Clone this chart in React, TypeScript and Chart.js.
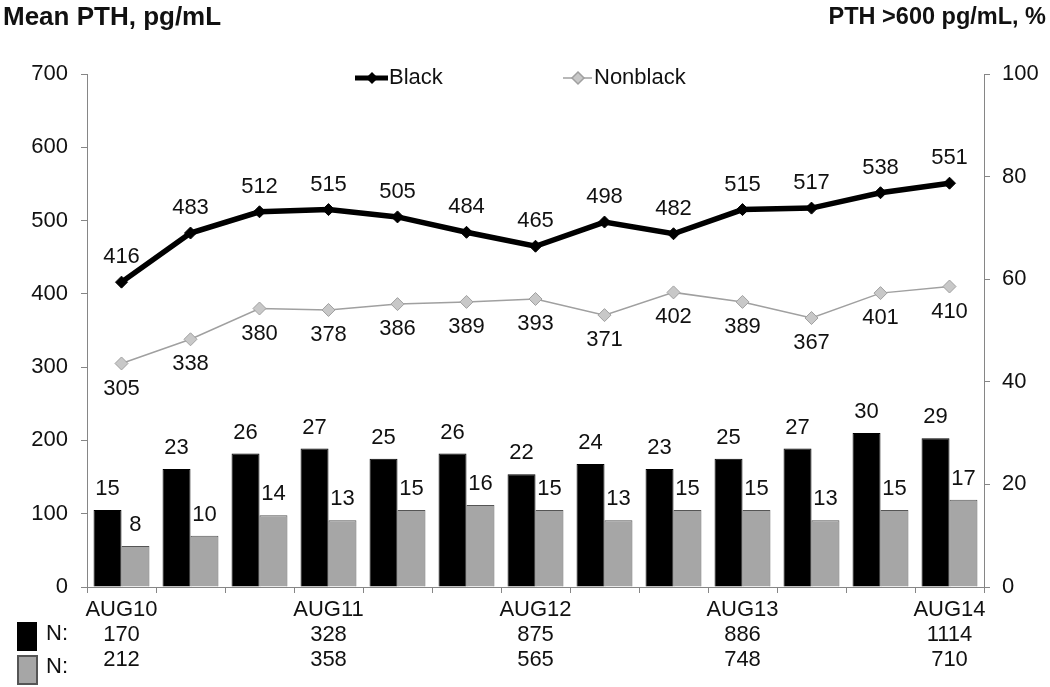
import React, { useEffect, useRef } from "react";
import { Chart, registerables } from "chart.js";

Chart.register(...registerables);

const categories = ["AUG10", "", "", "AUG11", "", "", "AUG12", "", "", "AUG13", "", "", "AUG14"];
const blackMean = [416, 483, 512, 515, 505, 484, 465, 498, 482, 515, 517, 538, 551];
const nonblackMean = [305, 338, 380, 378, 386, 389, 393, 371, 402, 389, 367, 401, 410];
const blackPct = [15, 23, 26, 27, 25, 26, 22, 24, 23, 25, 27, 30, 29];
const nonblackPct = [8, 10, 14, 13, 15, 16, 15, 13, 15, 15, 13, 15, 17];
const nBlack = ["170", "", "", "328", "", "", "875", "", "", "886", "", "", "1114"];
const nNonblack = ["212", "", "", "358", "", "", "565", "", "", "748", "", "", "710"];
const leftTitle = "Mean PTH, pg/mL";
const rightTitle = "PTH >600 pg/mL, %";

const FONT = "'Liberation Sans', Arial, sans-serif";
const AXIS = "#868686";
const GRAYBAR = "#a6a6a6";

const overlay = {
  id: "overlay",
  afterDatasetsDraw(chart: any) {
    const ctx = chart.ctx;
    ctx.save();
    ctx.fillStyle = "#111";
    ctx.font = `22px ${FONT}`;
    ctx.textAlign = "center";
    ctx.textBaseline = "middle";
    chart.data.datasets.forEach((ds: any, i: number) => {
      const meta = chart.getDatasetMeta(i);
      meta.data.forEach((el: any, j: number) => {
        const v = ds.data[j];
        let dy = -25;
        if (ds.label === "Nonblack") dy = 25;
        if (ds.type === "bar") dy = -21;
        ctx.fillText(String(v), el.x, el.y + dy);
      });
    });
    // titles
    ctx.textBaseline = "alphabetic";
    ctx.textAlign = "left";
    ctx.font = `bold 26px ${FONT}`;
    ctx.fillText(leftTitle, 3, 25);
    ctx.textAlign = "right";
    ctx.font = `bold 23.5px ${FONT}`;
    ctx.fillText(rightTitle, 1046, 24);
    // legend
    ctx.font = `22px ${FONT}`;
    ctx.textAlign = "left";
    ctx.textBaseline = "middle";
    const ly = 78;
    ctx.strokeStyle = "#000";
    ctx.lineWidth = 5;
    ctx.beginPath();
    ctx.moveTo(355, ly);
    ctx.lineTo(388, ly);
    ctx.stroke();
    ctx.fillStyle = "#000";
    ctx.beginPath();
    ctx.moveTo(372, ly - 6);
    ctx.lineTo(378, ly);
    ctx.lineTo(372, ly + 6);
    ctx.lineTo(366, ly);
    ctx.closePath();
    ctx.fill();
    ctx.fillStyle = "#111";
    ctx.fillText("Black", 389, ly);
    ctx.strokeStyle = "#a0a0a0";
    ctx.lineWidth = 1.5;
    ctx.beginPath();
    ctx.moveTo(563, ly);
    ctx.lineTo(592, ly);
    ctx.stroke();
    ctx.fillStyle = "#c8c8c8";
    ctx.beginPath();
    ctx.moveTo(578, ly - 6);
    ctx.lineTo(584, ly);
    ctx.lineTo(578, ly + 6);
    ctx.lineTo(572, ly);
    ctx.closePath();
    ctx.fill();
    ctx.stroke();
    ctx.fillStyle = "#111";
    ctx.fillText("Nonblack", 594, ly);
    // N legend boxes
    ctx.fillStyle = "#000";
    ctx.fillRect(17, 622, 20, 29);
    ctx.fillStyle = GRAYBAR;
    ctx.fillRect(18, 656, 19, 28);
    ctx.strokeStyle = "#555";
    ctx.lineWidth = 2;
    ctx.strokeRect(18, 656, 19, 28);
    ctx.fillStyle = "#111";
    ctx.textAlign = "left";
    ctx.fillText("N:", 46, 634);
    ctx.fillText("N:", 46, 667);
    ctx.restore();
  },
};

export default function App() {
  const ref = useRef<HTMLCanvasElement>(null);
  useEffect(() => {
    document.body.style.margin = "0";
    const chart = new Chart(ref.current as HTMLCanvasElement, {
      type: "bar",
      data: {
        labels: categories,
        datasets: [
          {
            type: "line",
            label: "Black",
            data: blackMean,
            yAxisID: "y",
            borderColor: "#000",
            backgroundColor: "#000",
            borderWidth: 5.5,
            pointStyle: "rectRot",
            pointRadius: 6,
            pointBorderWidth: 1,
            order: 0,
          } as any,
          {
            type: "line",
            label: "Nonblack",
            data: nonblackMean,
            yAxisID: "y",
            borderColor: "#a0a0a0",
            backgroundColor: "#c8c8c8",
            borderWidth: 1.5,
            pointStyle: "rectRot",
            pointRadius: 6.5,
            pointBorderColor: "#a0a0a0",
            pointBorderWidth: 1,
            order: 0,
          } as any,
          {
            type: "bar",
            label: "Black %",
            data: blackPct,
            yAxisID: "y1",
            backgroundColor: "#000",
            borderColor: "#000",
            borderWidth: 1,
            categoryPercentage: 0.81,
            barPercentage: 1.0,
            order: 1,
          } as any,
          {
            type: "bar",
            label: "Nonblack %",
            data: nonblackPct,
            yAxisID: "y1",
            backgroundColor: GRAYBAR,
            borderColor: "#555",
            borderWidth: 1,
            categoryPercentage: 0.81,
            barPercentage: 1.0,
            order: 1,
          } as any,
        ],
      },
      options: {
        responsive: false,
        animation: false,
        layout: { padding: { top: 74, left: 0, right: 0, bottom: 0 } },
        plugins: { legend: { display: false }, tooltip: { enabled: false }, title: { display: false } },
        scales: {
          x: {
            offset: true,
            grid: { display: true, drawOnChartArea: false, drawTicks: true, tickLength: 6, offset: true, color: AXIS },
            border: { color: AXIS, width: 1 },
            ticks: {
              autoSkip: false,
              maxRotation: 0,
              padding: 5,
              color: "#111",
              font: { family: FONT, size: 22, lineHeight: 1.12 },
              callback: (_v: any, i: number) =>
                categories[i] ? [categories[i], nBlack[i], nNonblack[i]] : "",
            },
            afterFit: (s: any) => {
              s.height = 100;
            },
          },
          y: {
            position: "left",
            min: 0,
            max: 700,
            grid: { display: true, drawOnChartArea: false, drawTicks: true, tickLength: 6, color: AXIS },
            border: { color: AXIS, width: 1 },
            ticks: { stepSize: 100, padding: 13, color: "#111", font: { family: FONT, size: 22 } },
            afterFit: (s: any) => {
              s.width = 87;
            },
          },
          y1: {
            position: "right",
            min: 0,
            max: 100,
            grid: { display: true, drawOnChartArea: false, drawTicks: true, tickLength: 6, color: AXIS },
            border: { color: AXIS, width: 1 },
            ticks: { stepSize: 20, padding: 12, color: "#111", font: { family: FONT, size: 22 } },
            afterFit: (s: any) => {
              s.width = 66;
            },
          },
        },
      },
      plugins: [overlay],
    });
    return () => chart.destroy();
  }, []);
  return (
    <div style={{ position: "fixed", left: 0, top: 0, width: 1050, height: 687, background: "#fff" }}>
      <canvas ref={ref} width={1050} height={687} />
    </div>
  );
}
